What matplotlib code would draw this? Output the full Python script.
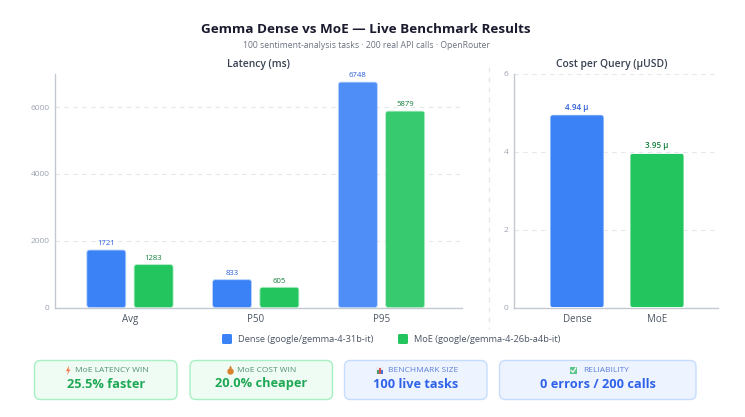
import matplotlib
matplotlib.use("Agg")
import matplotlib.pyplot as plt
from matplotlib.patches import FancyBboxPatch, Rectangle, Circle, Polygon

plt.rcParams['font.family'] = ['Open Sans', 'DejaVu Sans']

# data
latency_cats = ["Avg", "P50", "P95"]
latency_dense = [1721, 833, 6748]
latency_moe = [1283, 605, 5879]
latency_ticks = [0, 2000, 4000, 6000]
cost_cats = ["Dense", "MoE"]
cost_values = [4.94, 3.95]
cost_labels = ["4.94 µ", "3.95 µ"]
cost_ticks = [0, 2, 4, 6]
card_heads = ["MoE LATENCY WIN", "MoE COST WIN", "BENCHMARK SIZE", "RELIABILITY"]
card_values = ["25.5% faster", "20.0% cheaper", "100 live tasks", "0 errors / 200 calls"]

BLUE = "#3b82f6"
GREEN = "#22c55e"
BLUE_TXT = "#2f5fd8"
GREEN_TXT = "#15803d"
W, H = 745, 417

fig = plt.figure(figsize=(7.45, 4.17), dpi=100, facecolor="white")


def px_axes(x0, x1, y_top, y_bot):
    return fig.add_axes([x0 / W, 1 - y_bot / H, (x1 - x0) / W, (y_bot - y_top) / H])


def rounded_bar(ax, xc, val, width, color, edge, aspect, alpha=1.0):
    # rounded corners, aspect keeps them round on screen
    p = FancyBboxPatch((xc - width / 2, 0), width, val,
                       boxstyle="round,pad=0,rounding_size=%f" % (2.5 / aspect[0]),
                       mutation_aspect=aspect[0] / aspect[1],
                       facecolor=color, edgecolor=edge, linewidth=0.6, alpha=alpha, zorder=3)
    ax.add_patch(p)


def style_axes(ax, ticks):
    for s in ["top", "right"]:
        ax.spines[s].set_visible(False)
    ax.spines["left"].set_color("#c4c8d0")
    ax.spines["bottom"].set_color("#c4c8d0")
    ax.spines["left"].set_linewidth(1)
    ax.spines["bottom"].set_linewidth(1)
    ax.set_yticks(ticks)
    ax.tick_params(axis="y", length=0, labelsize=6, labelcolor="#9ca3af", pad=4)
    ax.tick_params(axis="x", length=0, labelsize=7, labelcolor="#4b5563", pad=5)
    ax.yaxis.grid(True, color="#e5e7eb", linestyle=(0, (4, 4)), linewidth=0.8)
    ax.set_axisbelow(True)


# latency chart
ax1 = px_axes(55, 462, 73.7, 307.5)
ax1.set_xlim(-0.596, 2.64)
ax1.set_ylim(0, 7000)
style_axes(ax1, latency_ticks)
ax1.set_xticks(range(len(latency_cats)))
ax1.set_xticklabels(latency_cats)
asp1 = (407 / 3.236, 233.8 / 7000)
for i in range(len(latency_cats)):
    a = 0.9 if i == 2 else 1.0
    rounded_bar(ax1, i - 0.188, latency_dense[i], 0.31, BLUE, "#bcd4fb", asp1, a)
    rounded_bar(ax1, i + 0.188, latency_moe[i], 0.31, GREEN, "#b4ecc8", asp1, a)
    ax1.text(i - 0.188, latency_dense[i] + 80, str(latency_dense[i]), ha="center", va="bottom",
             fontsize=5.6, color=BLUE_TXT, fontweight="medium")
    ax1.text(i + 0.188, latency_moe[i] + 80, str(latency_moe[i]), ha="center", va="bottom",
             fontsize=5.6, color=GREEN_TXT, fontweight="medium")

# cost chart
ax2 = px_axes(514, 718, 73.5, 307.5)
ax2.set_xlim(-0.7875, 1.7625)
ax2.set_ylim(0, 6)
style_axes(ax2, cost_ticks)
ax2.set_xticks(range(len(cost_cats)))
ax2.set_xticklabels(cost_cats)
asp2 = (204 / 2.55, 234 / 6)
txt_cols = [BLUE_TXT, GREEN_TXT]
for i, col in enumerate([BLUE, GREEN]):
    rounded_bar(ax2, i, cost_values[i], 0.675, col, "#ffffff", asp2)
    ax2.text(i, cost_values[i] + 0.08, cost_labels[i], ha="center", va="bottom",
             fontsize=5.8, color=txt_cols[i], fontweight="semibold")

# overlay in pixels for titles, legend and cards
ov = fig.add_axes([0, 0, 1, 1], zorder=5)
ov.set_xlim(0, W)
ov.set_ylim(H, 0)
ov.axis("off")
ov.patch.set_alpha(0)

ov.text(366, 29, "Gemma Dense vs MoE — Live Benchmark Results", ha="center", va="center",
        fontsize=9.7, fontweight="bold", color="#1a1a2e")
ov.text(366, 45.5, "100 sentiment-analysis tasks · 200 real API calls · OpenRouter", ha="center",
        va="center", fontsize=6.2, color="#6b7280")
ov.text(258, 64, "Latency (ms)", ha="center", va="center", fontsize=7.4, fontweight="semibold", color="#374151")
ov.text(612, 64, "Cost per Query (µUSD)", ha="center", va="center", fontsize=7.4, fontweight="semibold", color="#374151")

# divider between the charts
ov.plot([489, 489], [67, 329], color="#e5e7eb", linestyle=(0, (4, 4)), linewidth=0.9)

# legend
ov.add_patch(FancyBboxPatch((222, 334), 10, 10, boxstyle="round,pad=0,rounding_size=1.5",
                            facecolor=BLUE, edgecolor="none"))
ov.text(238, 339.5, "Dense (google/gemma-4-31b-it)", va="center", fontsize=6.7, color="#4b5563")
ov.add_patch(FancyBboxPatch((398, 334), 10, 10, boxstyle="round,pad=0,rounding_size=1.5",
                            facecolor=GREEN, edgecolor="none"))
ov.text(414, 339.5, "MoE (google/gemma-4-26b-a4b-it)", va="center", fontsize=6.7, color="#4b5563")

# cards
card_x = [(34.5, 177), (190, 332.5), (344.5, 487), (499.5, 696)]
card_face = ["#effcf4", "#effcf4", "#eef4ff", "#eef4ff"]
card_edge = ["#a7f0c3", "#a7f0c3", "#c6dcfd", "#c6dcfd"]
head_col = ["#4f8f70", "#4f8f70", "#5b7fd8", "#5b7fd8"]
val_col = ["#1fa855", "#1fa855", "#2f62e8", "#2f62e8"]
head_cx = [112, 267, 423, 606]
for i in range(4):
    x0, x1 = card_x[i]
    ov.add_patch(FancyBboxPatch((x0, 360.5), x1 - x0, 39, boxstyle="round,pad=0,rounding_size=6",
                                facecolor=card_face[i], edgecolor=card_edge[i], linewidth=1))
    ov.text(head_cx[i], 370.5, card_heads[i], ha="center", va="center", fontsize=6,
            color=head_col[i])
    ov.text((x0 + x1) / 2, 384, card_values[i], ha="center", va="center", fontsize=9.2,
            fontweight="bold", color=val_col[i])

# small icons, no emoji font available
ov.add_patch(Polygon([(69, 365.5), (66, 371), (68, 371), (67, 375), (70.5, 369.5), (68.5, 369.5)],
                     facecolor="#f2784b", edgecolor="none"))
ov.add_patch(Circle((230.5, 371.5), 3.2, facecolor="#d9822b", edgecolor="none"))
ov.add_patch(Polygon([(229, 368.5), (232, 368.5), (230.5, 365.5)], facecolor="#c97a2a", edgecolor="none"))
ov.add_patch(Rectangle((376, 367), 7, 7, facecolor="#e8ecf0", edgecolor="none"))
ov.add_patch(Rectangle((377, 370), 1.5, 4, facecolor="#4b9a6b", edgecolor="none"))
ov.add_patch(Rectangle((379, 368), 1.5, 6, facecolor="#d9534f", edgecolor="none"))
ov.add_patch(Rectangle((381, 369.5), 1.5, 4.5, facecolor="#4a6fd8", edgecolor="none"))
ov.add_patch(Rectangle((569.5, 366.5), 7.5, 7.5, facecolor="#5ac48a", edgecolor="none"))
ov.plot([571, 573, 575.8], [370.3, 372.3, 368], color="white", linewidth=0.9)

fig.savefig("out.png", dpi=100)
